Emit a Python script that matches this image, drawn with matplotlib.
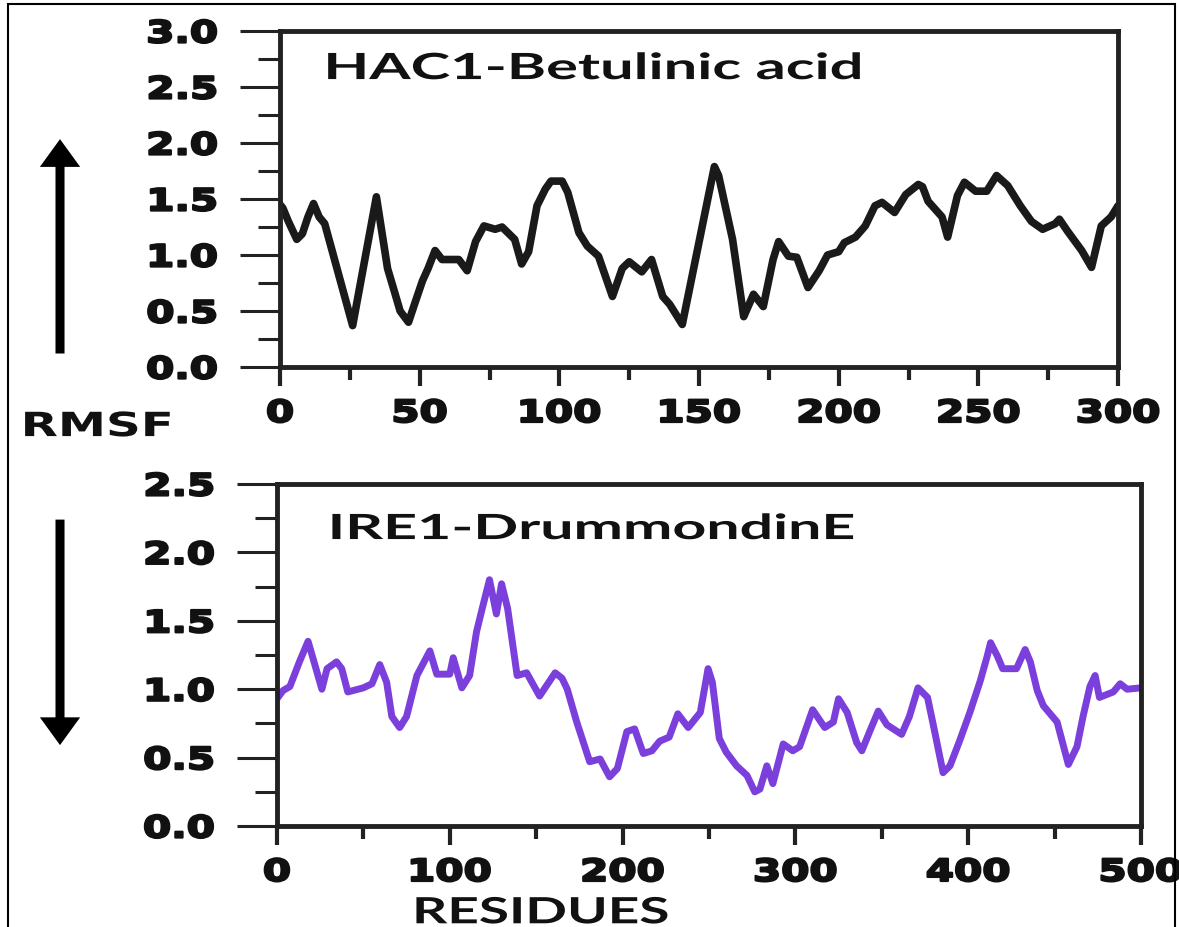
"""RMSF of HAC1-Betulinic acid and IRE1-DrummondinE complexes."""

import matplotlib

matplotlib.use("Agg")
import matplotlib.pyplot as plt
from matplotlib.patches import FancyArrowPatch, Rectangle
from matplotlib.patheffects import AbstractPathEffect
from matplotlib.ticker import MultipleLocator
from matplotlib.transforms import Affine2D


# HAC1 - Betulinic acid (top panel)
hac1_residues = [0, 1, 3, 6, 8, 10, 12, 14, 16, 26, 34.5, 38.5, 41, 43, 46, 48,
                 51, 53, 55.5, 58, 64, 67, 70, 73, 77, 79.5, 84, 86.5, 89, 92,
                 95, 97, 101, 103, 107, 110, 114, 119, 122.5, 125, 129.5, 133,
                 137, 139.5, 144, 155.5, 157, 162, 166, 169.5, 173, 176.5,
                 178.5, 182, 185, 189, 193, 196, 200, 202, 206, 209.5, 213,
                 215.5, 220, 224, 228.5, 230, 232, 234.5, 237, 239, 242.5, 245,
                 249, 253, 256.5, 260.5, 265, 269, 273, 277.5, 279, 282, 287,
                 290.5, 294, 297.5, 300]
hac1_rmsf = [1.45, 1.42, 1.3, 1.14, 1.19, 1.34, 1.46, 1.34, 1.28, 0.37, 1.52,
             0.88, 0.67, 0.5, 0.40, 0.55, 0.77, 0.88, 1.04, 0.96, 0.96, 0.86,
             1.12, 1.26, 1.23, 1.25, 1.14, 0.92, 1.03, 1.44, 1.59, 1.66, 1.66,
             1.56, 1.2, 1.08, 0.99, 0.63, 0.88, 0.94, 0.85, 0.96, 0.63, 0.56,
             0.38, 1.79, 1.71, 1.14, 0.45, 0.65, 0.54, 0.96, 1.12, 0.99, 0.98,
             0.71, 0.86, 1.0, 1.03, 1.11, 1.16, 1.26, 1.44, 1.47, 1.38, 1.54,
             1.63, 1.61, 1.48, 1.41, 1.34, 1.16, 1.53, 1.65, 1.57, 1.57, 1.71,
             1.62, 1.44, 1.3, 1.23, 1.28, 1.32, 1.21, 1.04, 0.89, 1.26, 1.34,
             1.44]

# IRE1 - DrummondinE (bottom panel)
ire1_residues = [0, 3.5, 7.5, 13, 18, 21, 26, 29, 34.5, 37.5, 41, 50, 55, 59.5,
                 63.5, 66.5, 71, 75, 81, 88.5, 92.5, 100, 102, 107, 111.5,
                 115.5, 119, 123, 127, 130, 133.5, 139, 144.5, 152, 161, 165,
                 168, 173.5, 181, 187, 192.5, 197, 202.5, 207, 212, 217, 221.5,
                 227, 232, 238, 245, 249.5, 252, 256, 260, 266, 272, 276.5,
                 279.5, 283.5, 287, 293, 298.5, 302.5, 310, 317, 322, 325, 330,
                 335.5, 338.5, 343, 348, 353, 361.5, 366, 371, 376.5, 379.5,
                 385.5, 389.5, 395, 401, 407, 411, 413, 417, 420, 428, 433, 436,
                 440, 443.5, 451.5, 458, 463, 466.5, 470.5, 473.5, 476, 484,
                 488, 492, 500]
ire1_rmsf = [0.93, 0.99, 1.02, 1.2, 1.35, 1.22, 1.0, 1.15, 1.2, 1.15, 0.98,
             1.01, 1.04, 1.18, 1.05, 0.8, 0.72, 0.8, 1.1, 1.28, 1.11, 1.11,
             1.23, 1.01, 1.1, 1.42, 1.6, 1.8, 1.55, 1.77, 1.59, 1.1, 1.12,
             0.95, 1.12, 1.08, 1.0, 0.76, 0.47, 0.49, 0.36, 0.42, 0.69, 0.71,
             0.53, 0.55, 0.62, 0.65, 0.82, 0.72, 0.83, 1.15, 1.05, 0.64, 0.54,
             0.44, 0.37, 0.25, 0.27, 0.44, 0.31, 0.6, 0.55, 0.58, 0.85, 0.72,
             0.76, 0.93, 0.83, 0.61, 0.55, 0.69, 0.84, 0.74, 0.67, 0.8, 1.01,
             0.94, 0.76, 0.39, 0.44, 0.62, 0.83, 1.06, 1.24, 1.34, 1.24, 1.15,
             1.15, 1.29, 1.2, 0.99, 0.88, 0.76, 0.45, 0.58, 0.8, 1.02, 1.1,
             0.94, 0.98, 1.04, 1.0, 1.01]

hac1_xticks = [0, 50, 100, 150, 200, 250, 300]
hac1_yticks = [0.0, 0.5, 1.0, 1.5, 2.0, 2.5, 3.0]
ire1_xticks = [0, 100, 200, 300, 400, 500]
ire1_yticks = [0.0, 0.5, 1.0, 1.5, 2.0, 2.5]

INK = "#111111"
PURPLE = "#7b3fdc"


class HStretch(AbstractPathEffect):
    """Stretch text horizontally (the source picture is widened)."""

    def __init__(self, sx, anchor=0.5, stroke=0.0):
        super().__init__()
        self.sx = sx
        self.anchor = anchor
        self.stroke = stroke

    def draw_path(self, renderer, gc, tpath, affine, rgbFace=None):
        ext = tpath.get_extents(affine)
        x0 = ext.x0 + self.anchor * ext.width
        stretch = Affine2D().translate(-x0, 0).scale(self.sx, 1).translate(x0, 0)
        if self.stroke:
            gc0 = renderer.new_gc()
            gc0.copy_properties(gc)
            gc0.set_linewidth(self.stroke)
            gc0.set_foreground(rgbFace)
            renderer.draw_path(gc0, tpath, affine + stretch, rgbFace)
            gc0.restore()
        else:
            renderer.draw_path(gc, tpath, affine + stretch, rgbFace)


def style_axes(ax, xticks, yticks, xminor, xpad):
    for spine in ax.spines.values():
        spine.set_linewidth(3.5)
        spine.set_color("#222222")
    ax.set_xticks(xticks)
    ax.set_yticks(yticks)
    ax.set_yticklabels([f"{v:.1f}" for v in yticks])
    ax.xaxis.set_minor_locator(MultipleLocator(xminor))
    ax.yaxis.set_minor_locator(MultipleLocator(0.25))
    ax.tick_params(axis="y", which="major", direction="out", length=29,
                   width=2.2, pad=16, color="#222222")
    ax.tick_params(axis="y", which="minor", direction="out", length=16,
                   width=2.2, color="#222222")
    ax.tick_params(axis="x", which="major", direction="out", length=14,
                   width=3, pad=xpad, color="#222222")
    ax.tick_params(axis="x", which="minor", direction="out", length=9,
                   width=3, color="#222222")
    ax.tick_params(labelsize=22, labelcolor=INK)
    for label in ax.get_xticklabels():
        label.set_fontweight("bold")
        label.set_path_effects([HStretch(1.33, 0.5, stroke=1.6)])
    for label in ax.get_yticklabels():
        label.set_fontweight("bold")
        label.set_path_effects([HStretch(1.33, 1.0, stroke=1.6)])


fig = plt.figure(figsize=(11.79, 9.28), dpi=100)

ax_top = fig.add_axes([0.2375, 0.6034, 0.7108, 0.3621])
ax_top.plot(hac1_residues, hac1_rmsf, color="#1a1a1a", lw=5.5,
            solid_joinstyle="round", solid_capstyle="round")
ax_top.set_xlim(0, 300)
ax_top.set_ylim(0, 3.0)
style_axes(ax_top, hac1_xticks, hac1_yticks, 25, 9)
ax_top.text(0.054, 0.857, "HAC1-Betulinic acid", transform=ax_top.transAxes,
            fontsize=26, fontweight="bold", family="Lato", color=INK,
            va="baseline", path_effects=[HStretch(1.65, 0.0)])

ax_bot = fig.add_axes([0.2349, 0.1088, 0.7328, 0.3686])
ax_bot.plot(ire1_residues, ire1_rmsf, color=PURPLE, lw=5,
            solid_joinstyle="round", solid_capstyle="round")
ax_bot.set_xlim(0, 500)
ax_bot.set_ylim(0, 2.5)
style_axes(ax_bot, ire1_xticks, ire1_yticks, 50, 9)
ax_bot.text(0.061, 0.839, "IRE1-DrummondinE", transform=ax_bot.transAxes,
            fontsize=25, fontweight="bold", family="Lato", color=INK,
            va="baseline", path_effects=[HStretch(1.7, 0.0)])

# shared y label and direction arrows
fig.text(0.0187, 0.529, "RMSF", fontsize=24, fontweight="bold", color=INK,
         va="baseline", ha="left", path_effects=[HStretch(1.45, 0.0)])
fig.text(0.459, 0.004, "RESIDUES", fontsize=26, fontweight="bold",
         family="Lato", color=INK, va="baseline", ha="center",
         path_effects=[HStretch(1.52, 0.5)])

arrow_style = "simple,head_length=2.0,head_width=2.9,tail_width=0.65"
fig.add_artist(FancyArrowPatch((0.0509, 0.615), (0.0509, 0.852),
                               transform=fig.transFigure, arrowstyle=arrow_style,
                               mutation_scale=10, color="black", lw=0))
fig.add_artist(FancyArrowPatch((0.0509, 0.442), (0.0509, 0.193),
                               transform=fig.transFigure, arrowstyle=arrow_style,
                               mutation_scale=10, color="black", lw=0))

# thin frame around the whole picture
fig.add_artist(Rectangle((8 / 1179, -0.01), 1167 / 1179, 1.01 - 5 / 928,
                         transform=fig.transFigure, fill=False,
                         edgecolor="black", lw=1.5))

fig.savefig("out.png", dpi=100)
